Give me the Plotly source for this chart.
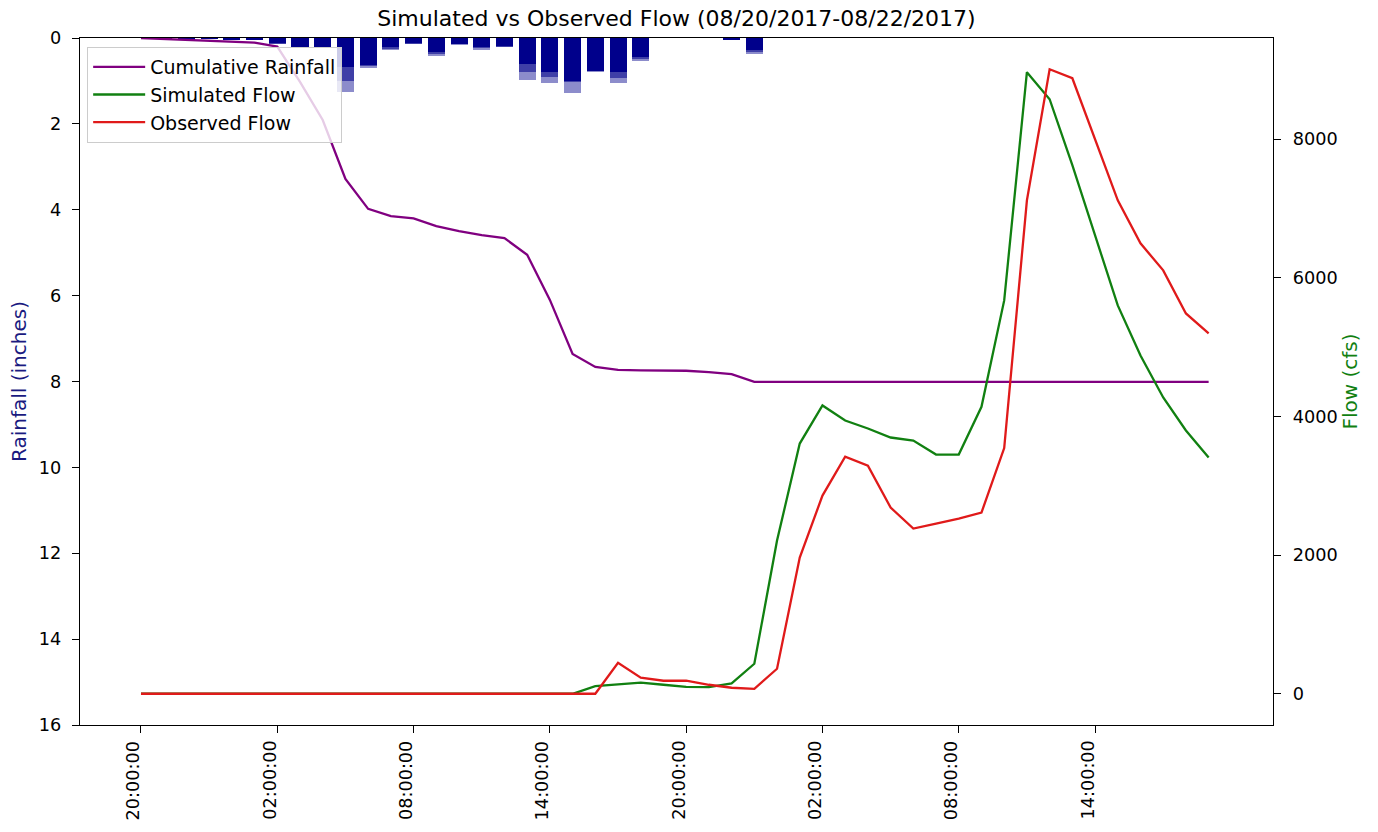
import pandas as pd
import plotly.graph_objects as go

# ---- data (hourly, 2017-08-20 20:00 .. 2017-08-22 19:00) ----
times = pd.date_range("2017-08-20 20:00", periods=48, freq="h")

cumulative_rain = [0.0, 0.02, 0.04, 0.06, 0.08, 0.11, 0.2, 1.02, 1.91, 3.28,
                   3.98, 4.15, 4.2, 4.38, 4.5, 4.59, 4.66, 5.05, 6.1, 7.36,
                   7.66, 7.73, 7.74, 7.74, 7.75, 7.78, 7.83, 8.01, 8.01, 8.01,
                   8.01, 8.01, 8.01, 8.01, 8.01, 8.01, 8.01, 8.01, 8.01, 8.01,
                   8.01, 8.01, 8.01, 8.01, 8.01, 8.01, 8.01, 8.01]

rain_total = [0.0, 0.02, 0.03, 0.02, 0.03, 0.04, 0.14, 0.22, 0.22, 1.26,
              0.7, 0.28, 0.14, 0.42, 0.16, 0.28, 0.21, 0.98, 1.05, 1.28,
              0.79, 1.05, 0.54, 0.0, 0.0, 0.0, 0.05, 0.37, 0.0, 0.0,
              0.0, 0.0, 0.0, 0.0, 0.0, 0.0, 0.0, 0.0, 0.0, 0.0,
              0.0, 0.0, 0.0, 0.0, 0.0, 0.0, 0.0, 0.0]

rain_mid = [0.0, 0.02, 0.03, 0.02, 0.03, 0.04, 0.13, 0.21, 0.21, 1.0,
            0.66, 0.25, 0.13, 0.37, 0.15, 0.24, 0.2, 0.8, 0.9, 1.02,
            0.78, 0.92, 0.5, 0.0, 0.0, 0.0, 0.045, 0.32, 0.0, 0.0,
            0.0, 0.0, 0.0, 0.0, 0.0, 0.0, 0.0, 0.0, 0.0, 0.0,
            0.0, 0.0, 0.0, 0.0, 0.0, 0.0, 0.0, 0.0]

rain_core = [0.0, 0.02, 0.03, 0.02, 0.03, 0.04, 0.12, 0.2, 0.2, 0.68,
             0.62, 0.22, 0.12, 0.32, 0.14, 0.2, 0.18, 0.6, 0.8, 1.0,
             0.76, 0.8, 0.45, 0.0, 0.0, 0.0, 0.04, 0.28, 0.0, 0.0,
             0.0, 0.0, 0.0, 0.0, 0.0, 0.0, 0.0, 0.0, 0.0, 0.0,
             0.0, 0.0, 0.0, 0.0, 0.0, 0.0, 0.0, 0.0]

simulated_flow = [0, 0, 0, 0, 0, 0, 0, 0, 0, 0,
                  0, 0, 0, 0, 0, 0, 0, 0, 0, 0,
                  110, 140, 160, 130, 100, 95, 150, 433, 2210, 3610,
                  4159, 3942, 3827, 3697, 3653, 3451, 3451, 4140, 5675, 8967,
                  8577, 7625, 6600, 5603, 4881, 4275, 3798, 3408]

observed_flow = [0, 0, 0, 0, 0, 0, 0, 0, 0, 0,
                 0, 0, 0, 0, 0, 0, 0, 0, 0, 0,
                 0, 448, 231, 188, 188, 130, 87, 72, 361, 1964,
                 2859, 3422, 3292, 2686, 2383, 2455, 2527, 2614, 3545, 7119,
                 9010, 8880, 8000, 7119, 6498, 6108, 5487, 5198]

tick_times = ["2017-08-20 20:00", "2017-08-21 02:00", "2017-08-21 08:00",
              "2017-08-21 14:00", "2017-08-21 20:00", "2017-08-22 02:00",
              "2017-08-22 08:00", "2017-08-22 14:00"]
tick_text = ["20:00:00", "02:00:00", "08:00:00", "14:00:00",
             "20:00:00", "02:00:00", "08:00:00", "14:00:00"]

FONT = "DejaVu Sans"
TICK = 17.7
bar_w = 0.75 * 3600 * 1000

fig = go.Figure()
for vals, col in [(rain_total, "rgba(0,0,139,0.45)"),
                  (rain_mid, "rgba(0,0,139,0.55)"),
                  (rain_core, "#00008b")]:
    fig.add_trace(go.Bar(x=times, y=vals, width=bar_w, yaxis="y",
                         marker=dict(color=col, line=dict(width=0)),
                         showlegend=False, hoverinfo="skip"))
fig.add_trace(go.Scatter(x=times, y=cumulative_rain, mode="lines", yaxis="y",
                         name="Cumulative Rainfall",
                         line=dict(color="#800080", width=2.3)))
fig.add_trace(go.Scatter(x=times, y=simulated_flow, mode="lines", yaxis="y2",
                         name="Simulated Flow",
                         line=dict(color="#118011", width=2.3)))
fig.add_trace(go.Scatter(x=times, y=observed_flow, mode="lines", yaxis="y2",
                         name="Observed Flow",
                         line=dict(color="#e01a1a", width=2.3)))

axis_common = dict(ticks="outside", ticklen=7, tickcolor="black", tickwidth=1,
                   showline=True, linecolor="black", linewidth=1.2,
                   showgrid=False, zeroline=False,
                   tickfont=dict(family=FONT, size=TICK, color="black"))

# x tick labels as rotated text placed just left of each tick (as in the source)
x_labels = [dict(x=t, y=0, xref="x", yref="paper", text=s, textangle=-90,
                 showarrow=False, xanchor="center", yanchor="top",
                 xshift=-8, yshift=-14,
                 font=dict(family=FONT, size=TICK, color="black"))
            for t, s in zip(tick_times, tick_text)]

fig.update_layout(
    width=1378, height=832,
    margin=dict(l=80, r=105, t=38, b=107),
    paper_bgcolor="white", plot_bgcolor="white",
    barmode="overlay", bargap=0,
    font=dict(family=FONT, size=TICK, color="black"),
    title=dict(text="Simulated vs Observed Flow (08/20/2017-08/22/2017)",
               x=0.5, xref="paper", xanchor="center",
               y=1 - 18 / 832, yref="container", yanchor="middle",
               font=dict(family=FONT, size=22, color="black")),
    xaxis=dict(type="date",
               range=["2017-08-20 17:18:54", "2017-08-22 21:50:00"],
               tickvals=tick_times, ticktext=[""] * len(tick_times),
               mirror=True, **axis_common),
    yaxis=dict(range=[16, 0], tickvals=[0, 2, 4, 6, 8, 10, 12, 14, 16],
               ticklabelstandoff=7,
               title=dict(text="Rainfall (inches)", standoff=6,
                          font=dict(family=FONT, size=20, color="#1a1a80")),
               **axis_common),
    yaxis2=dict(overlaying="y", side="right", range=[-450.5, 9460.5],
                tickvals=[0, 2000, 4000, 6000, 8000],
                ticklabelstandoff=8,
                title=dict(text="Flow (cfs)", standoff=6,
                           font=dict(family=FONT, size=20, color="#118011")),
                **axis_common),
    legend=dict(x=0.006, y=0.987, xanchor="left", yanchor="top",
                bgcolor="rgba(255,255,255,0.8)", bordercolor="#cccccc",
                borderwidth=1, font=dict(family=FONT, size=19),
                tracegroupgap=0, itemwidth=52),
    annotations=x_labels,
)

fig.write_html("out.html", config={"displayModeBar": False},
               post_script="document.body.style.margin='0px';")
